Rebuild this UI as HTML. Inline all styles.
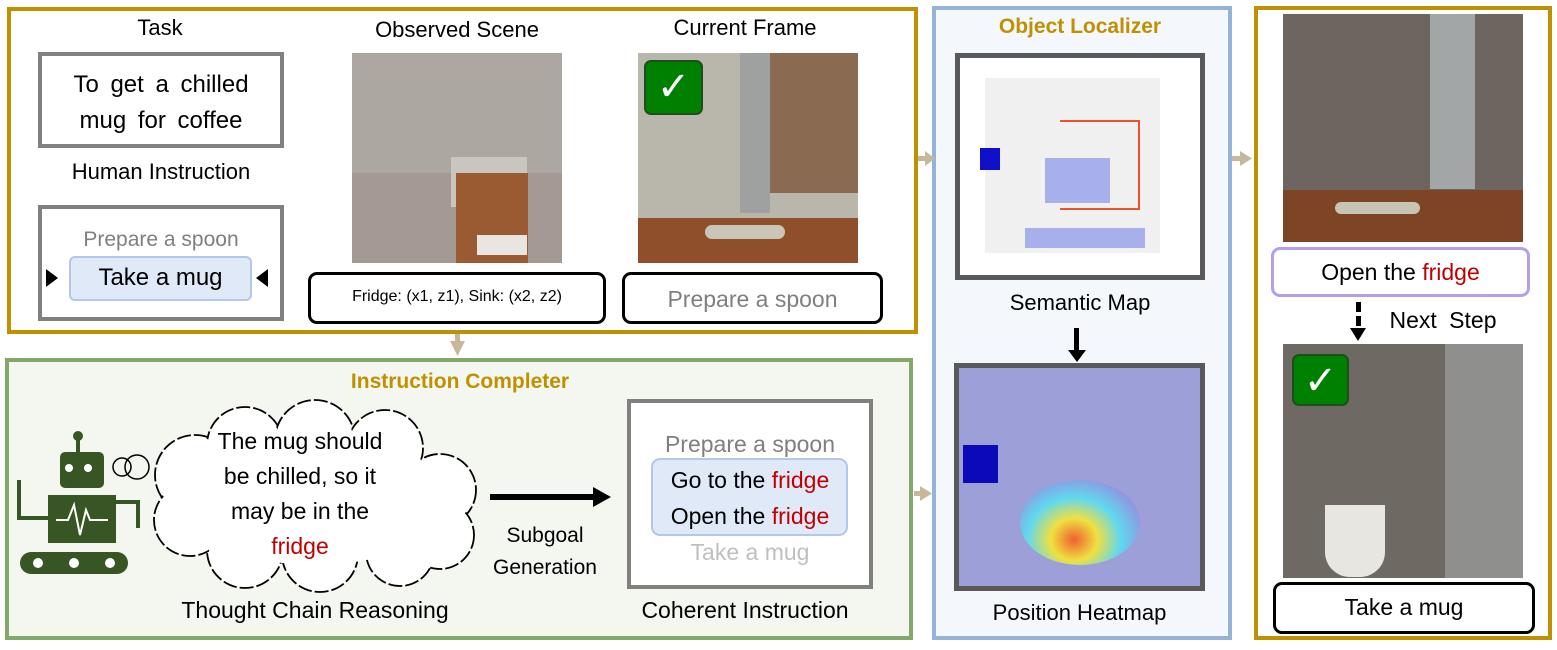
<!DOCTYPE html>
<html><head><meta charset="utf-8"><style>
*{box-sizing:border-box;margin:0;padding:0}
body{width:1557px;height:650px;background:#fff;position:relative;overflow:hidden;font-family:"Liberation Sans",sans-serif;color:#000}
.a{position:absolute}
.t{position:absolute;text-align:center;white-space:nowrap;font-size:22px}
.red{color:#c00000}
.chk{position:absolute;background:#008000;border:2px solid #1e4d1e;border-radius:7px;color:#fff;font-size:40px;line-height:50px;text-align:center}
</style></head><body>

<!-- top-left frame -->
<div class="a" style="left:7px;top:7px;width:911px;height:327px;border:4px solid #bf9000"></div>
<div class="t" style="left:110px;top:15px;width:100px">Task</div>
<div class="a" style="left:38px;top:52px;width:246px;height:96px;border:4px solid #808080"></div>
<div class="t" style="left:38px;top:67px;width:246px;font-size:24px;line-height:36px;word-spacing:5px">To get a chilled<br>mug for coffee</div>
<div class="t" style="left:30px;top:159px;width:262px">Human Instruction</div>
<div class="a" style="left:38px;top:205px;width:246px;height:116px;border:4px solid #808080"></div>
<div class="t" style="left:38px;top:228px;width:246px;color:#7f7f7f;font-size:21px">Prepare a spoon</div>
<div class="a" style="left:69px;top:256px;width:183px;height:45px;background:#dfe9f7;border:2px solid #b4c7e7;border-radius:6px"></div>
<div class="t" style="left:69px;top:264px;width:183px;font-size:24px">Take a mug</div>
<div class="a" style="left:46px;top:269px;width:0;height:0;border-top:9px solid transparent;border-bottom:9px solid transparent;border-left:12px solid #000"></div>
<div class="a" style="left:256px;top:269px;width:0;height:0;border-top:9px solid transparent;border-bottom:9px solid transparent;border-right:12px solid #000"></div>

<div class="t" style="left:347px;top:17px;width:220px">Observed Scene</div>
<div class="a" style="left:352px;top:53px;width:210px;height:210px;background:#a49a93"></div>
<div class="a" style="left:352px;top:53px;width:210px;height:120px;background:#ada7a2"></div>
<div class="a" style="left:451px;top:157px;width:76px;height:50px;background:#c9c6c0"></div>
<div class="a" style="left:456px;top:173px;width:72px;height:90px;background:#9a5a32"></div>
<div class="a" style="left:477px;top:235px;width:50px;height:20px;background:#e9e6e1"></div>
<div class="a" style="left:308px;top:272px;width:298px;height:52px;border:3px solid #000;border-radius:9px"></div>
<div class="t" style="left:308px;top:288px;width:298px;font-size:16px">Fridge: (x1, z1), Sink: (x2, z2)</div>

<div class="t" style="left:635px;top:15px;width:220px">Current Frame</div>
<div class="a" style="left:638px;top:53px;width:220px;height:210px;background:#b9b6ac"></div>
<div class="a" style="left:770px;top:53px;width:88px;height:140px;background:#8a6b52"></div>
<div class="a" style="left:638px;top:218px;width:220px;height:45px;background:#8f4f2b"></div>
<div class="a" style="left:740px;top:53px;width:30px;height:160px;background:#9ea19f"></div>
<div class="a" style="left:705px;top:225px;width:80px;height:14px;background:#c9c6b8;border-radius:7px"></div>
<div class="chk" style="left:644px;top:60px;width:59px;height:55px">✓</div>
<div class="a" style="left:622px;top:272px;width:261px;height:52px;border:3px solid #000;border-radius:9px"></div>
<div class="t" style="left:622px;top:286px;width:261px;color:#7f7f7f;font-size:23px">Prepare a spoon</div>

<!-- bottom-left frame -->
<div class="a" style="left:5px;top:358px;width:908px;height:282px;border:4px solid #82a86a;background:#f4f7f0"></div>
<div class="t" style="left:300px;top:370px;width:320px;color:#bf9000;font-weight:bold;font-size:21px">Instruction Completer</div>
<svg class="a" style="left:0;top:340px" width="930" height="310">
 <g fill="#375623">
  <rect x="76" y="100" width="4" height="16"/><circle cx="78" cy="96" r="5"/>
  <rect x="60" y="112" width="44" height="36" rx="5"/>
  <rect x="48" y="155" width="68" height="48"/>
  <rect x="20" y="212" width="108" height="22" rx="11"/>
  <rect x="17" y="140" width="4" height="40"/><rect x="17" y="176" width="32" height="4"/>
  <rect x="115" y="160" width="25" height="4"/><rect x="136" y="160" width="4" height="28"/>
 </g>
 <g fill="#fff"><circle cx="69" cy="128" r="4"/><circle cx="88" cy="128" r="4"/><circle cx="38" cy="223" r="5"/><circle cx="74" cy="223" r="5"/><circle cx="110" cy="223" r="5"/></g>
 <polyline points="56,180 68,180 74,165 80,195 86,170 90,180 108,180" fill="none" stroke="#fff" stroke-width="2"/>
 <g stroke="#000" stroke-width="1.5" fill="none"><circle cx="122" cy="127" r="9"/><circle cx="137" cy="127" r="12"/></g>
 <g stroke="#000" stroke-width="1.8" stroke-dasharray="14,3" fill="#fff">
  <circle cx="195" cy="135" r="40"/><circle cx="245" cy="105" r="38"/><circle cx="315" cy="100" r="40"/><circle cx="385" cy="108" r="38"/>
  <circle cx="440" cy="150" r="36"/><circle cx="440" cy="195" r="34"/><circle cx="400" cy="212" r="34"/><circle cx="320" cy="214" r="38"/><circle cx="245" cy="210" r="38"/>
  <circle cx="190" cy="180" r="36"/>
 </g>
 <g fill="#fff"><ellipse cx="315" cy="160" rx="135" ry="65"/><circle cx="195" cy="135" r="38"/><circle cx="245" cy="105" r="36"/><circle cx="315" cy="100" r="38"/><circle cx="385" cy="108" r="36"/><circle cx="440" cy="150" r="34"/><circle cx="440" cy="195" r="32"/><circle cx="400" cy="212" r="32"/><circle cx="320" cy="214" r="36"/><circle cx="245" cy="210" r="36"/><circle cx="190" cy="180" r="34"/></g>
 <rect x="490" y="154" width="105" height="6" fill="#000"/><polygon points="593,147 611,157 593,167" fill="#000"/>
</svg>
<div class="t" style="left:175px;top:424px;width:250px;line-height:35px;font-size:23px">The mug should<br>be chilled, so it<br>may be in the<br><span class="red">fridge</span></div>
<div class="t" style="left:490px;top:520px;width:110px;line-height:32px;font-size:21px">Subgoal<br>Generation</div>
<div class="t" style="left:145px;top:597px;width:340px;font-size:23px">Thought Chain Reasoning</div>
<div class="a" style="left:627px;top:399px;width:246px;height:190px;border:4px solid #808080;background:#fff"></div>
<div class="a" style="left:651px;top:458px;width:197px;height:78px;background:#dfe9f7;border:2px solid #b4c7e7;border-radius:9px"></div>
<div class="t" style="left:627px;top:426px;width:246px;line-height:36px;font-size:23px"><span style="color:#7f7f7f">Prepare a spoon</span><br>Go to the <span class="red">fridge</span><br>Open the <span class="red">fridge</span><br><span style="color:#bfbfbf">Take a mug</span></div>
<div class="t" style="left:600px;top:597px;width:290px;font-size:23px">Coherent Instruction</div>

<!-- middle frame -->
<div class="a" style="left:932px;top:6px;width:300px;height:634px;border:4px solid #95b3d7;background:#f4f8fd"></div>
<div class="t" style="left:932px;top:15px;width:296px;color:#bf9000;font-weight:bold;font-size:21px">Object Localizer</div>
<div class="a" style="left:955px;top:53px;width:250px;height:227px;border:5px solid #595959;background:#fff"></div>
<div class="a" style="left:985px;top:78px;width:175px;height:175px;background:#f0f0f0"></div>
<div class="a" style="left:980px;top:148px;width:20px;height:22px;background:#1010c8"></div>
<div class="a" style="left:1045px;top:158px;width:65px;height:45px;background:#a8b0ec"></div>
<div class="a" style="left:1025px;top:228px;width:120px;height:20px;background:#a8b0ec"></div>
<div class="a" style="left:1060px;top:120px;width:80px;height:90px;border-top:2px solid #f05030;border-right:2px solid #f05030;border-bottom:2px solid #f05030"></div>
<div class="t" style="left:955px;top:290px;width:250px">Semantic Map</div>
<div class="a" style="left:1074px;top:328px;width:5px;height:24px;background:#000"></div>
<div class="a" style="left:1068px;top:350px;width:0;height:0;border-left:9px solid transparent;border-right:9px solid transparent;border-top:12px solid #000"></div>
<div class="a" style="left:954px;top:363px;width:251px;height:228px;border:5px solid #595959;background:#9d9fd8"></div>
<div class="a" style="left:963px;top:445px;width:35px;height:38px;background:#0a0ab8"></div>
<div class="a" style="left:1020px;top:480px;width:120px;height:85px;border-radius:50%;background:radial-gradient(ellipse at 45% 70%,#f06030 0%,#f0e040 25%,#60d8f0 50%,rgba(120,140,240,0.4) 75%,rgba(157,159,216,0) 100%)"></div>
<div class="t" style="left:954px;top:600px;width:251px">Position Heatmap</div>

<!-- right frame -->
<div class="a" style="left:1254px;top:6px;width:298px;height:634px;border:4px solid #bf9000"></div>
<div class="a" style="left:1283px;top:14px;width:240px;height:228px;background:#6d6660"></div>
<div class="a" style="left:1283px;top:190px;width:240px;height:52px;background:#7e4426"></div>
<div class="a" style="left:1430px;top:14px;width:45px;height:175px;background:#a3a6a6"></div>
<div class="a" style="left:1335px;top:202px;width:85px;height:12px;background:#c8c4b4;border-radius:6px"></div>
<div class="a" style="left:1271px;top:247px;width:259px;height:50px;border:3px solid #b4a0e8;border-radius:9px;background:#fff"></div>
<div class="t" style="left:1271px;top:259px;width:259px;font-size:23px">Open the <span class="red">fridge</span></div>
<div class="a" style="left:1356px;top:302px;width:5px;height:10px;background:#000"></div>
<div class="a" style="left:1356px;top:316px;width:5px;height:10px;background:#000"></div>
<div class="a" style="left:1350px;top:328px;width:0;height:0;border-left:8px solid transparent;border-right:8px solid transparent;border-top:13px solid #000"></div>
<div class="t" style="left:1378px;top:307px;width:130px;font-size:23px;word-spacing:6px">Next Step</div>
<div class="a" style="left:1283px;top:344px;width:240px;height:234px;background:#6f6964"></div>
<div class="a" style="left:1445px;top:344px;width:78px;height:234px;background:#8f908e"></div>
<div class="a" style="left:1325px;top:505px;width:60px;height:72px;background:#e8e6e0;border-radius:0 0 25px 25px"></div>
<div class="chk" style="left:1292px;top:354px;width:57px;height:52px">✓</div>
<div class="a" style="left:1273px;top:582px;width:262px;height:52px;border:3px solid #000;border-radius:9px;background:#fff"></div>
<div class="t" style="left:1273px;top:594px;width:262px;font-size:23px">Take a mug</div>

<!-- beige arrows -->
<svg class="a" style="left:0;top:0" width="1557" height="650">
 <g fill="#c8b89a">
  <rect x="918" y="156" width="8" height="5"/><polygon points="925,151 935,158.5 925,166"/>
  <rect x="1232" y="156" width="8" height="5"/><polygon points="1240,151 1252,158.5 1240,166"/>
  <rect x="914" y="491" width="8" height="5"/><polygon points="920,486 932,493.5 920,501"/>
  <rect x="455" y="334" width="5" height="8"/><polygon points="450,341 465,341 457.5,356"/>
 </g>
</svg>
</body></html>
